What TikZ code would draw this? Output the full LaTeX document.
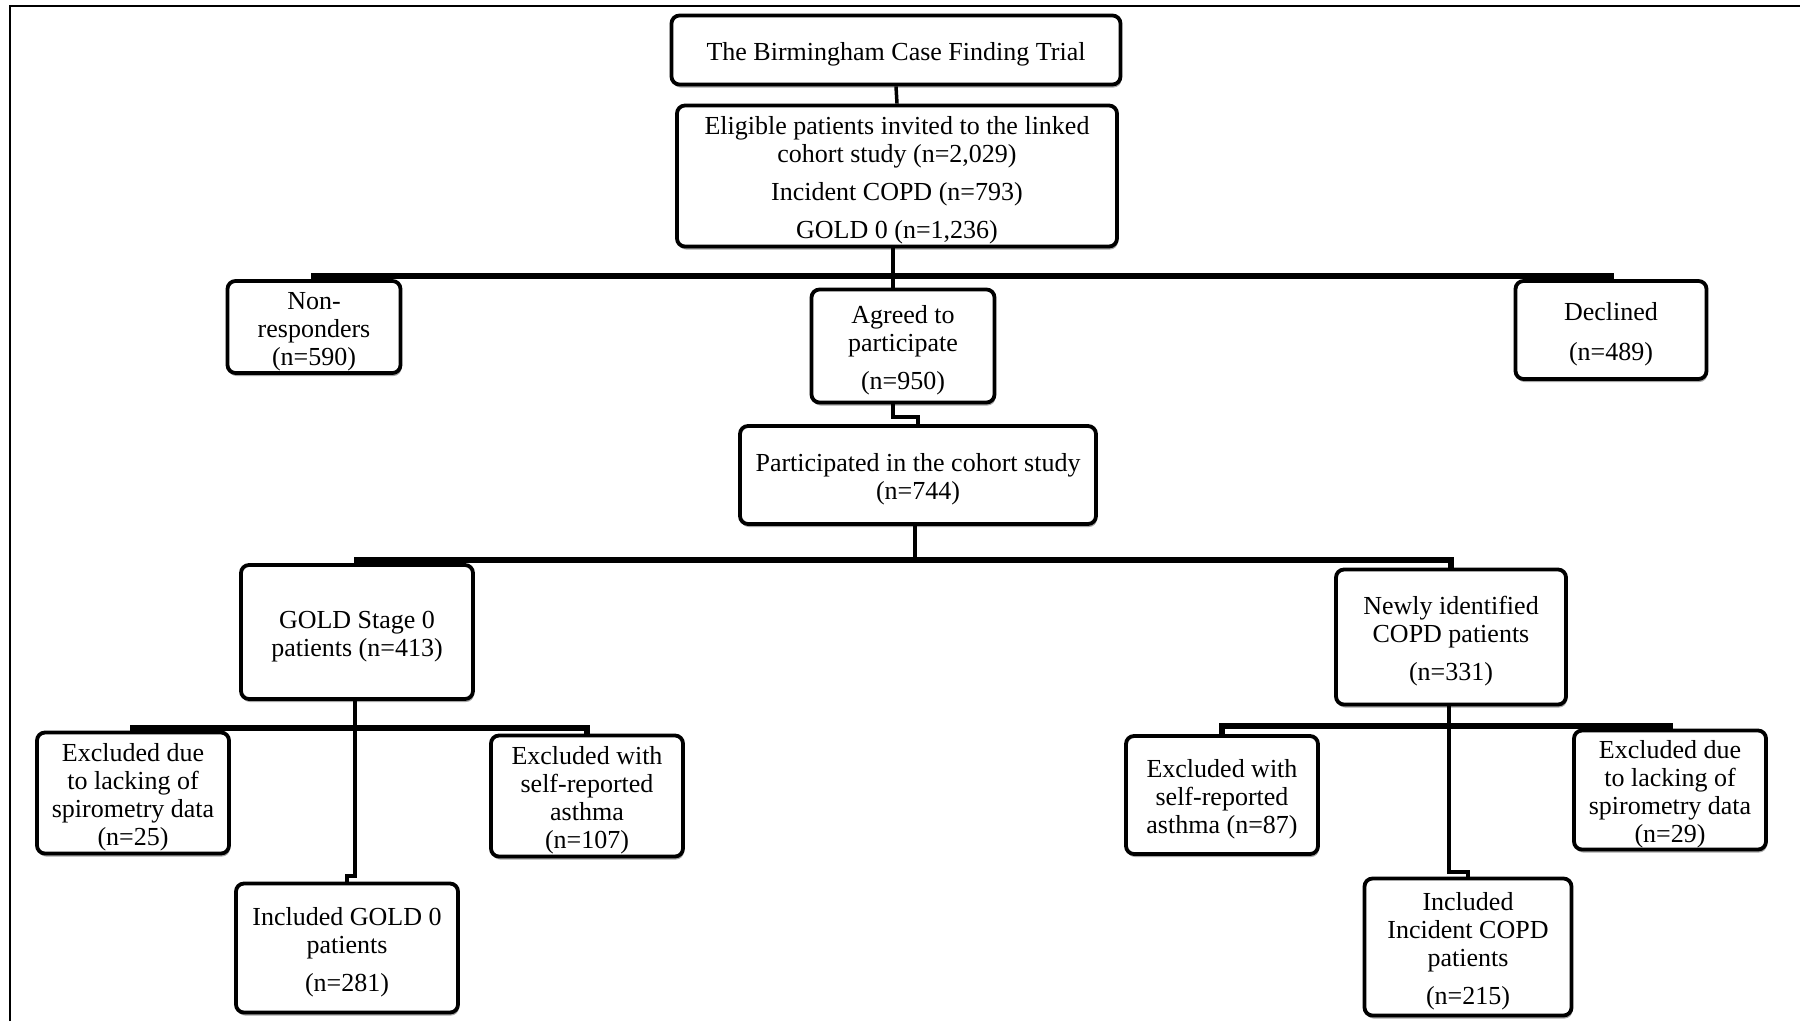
\documentclass[tikz,border=0pt]{standalone}
\usepackage{fontspec}
\setmainfont{Liberation Serif}
\usetikzlibrary{shadows}
\newcommand\topstrut{\rule{0pt}{26pt}}
\begin{document}
\begin{tikzpicture}[x=1pt,y=-1pt,
    box/.style={draw, line width=3.8pt, rounded corners=8pt, fill=white,
      align=center, inner sep=0pt, font=\fontsize{26}{28}\selectfont,
      drop shadow={shadow xshift=1pt, shadow yshift=-3pt, fill=black!35, opacity=1}},
    link/.style={line width=3.5pt},
    bar/.style={line width=6pt}]
  \useasboundingbox (0,0) rectangle (1800,1021);
  \draw[line width=2pt] (10,1021) -- (10,6) -- (1800,6);
  % boxes
  \node[box, minimum width=449pt, minimum height=69pt] (trial) at (896,50)
    {\topstrut The Birmingham Case Finding Trial};
  \node[box, minimum width=440pt, minimum height=141pt] (elig) at (897,176)
    {\topstrut Eligible patients invited to the linked\\cohort study (n=2,029)\\[10pt]Incident COPD (n=793)\\[10pt]GOLD 0 (n=1,236)};
  \node[box, minimum width=173pt, minimum height=92pt] (nonresp) at (314,327)
    {\topstrut Non-\\responders\\(n=590)};
  \node[box, minimum width=183pt, minimum height=113pt] (agreed) at (903,346)
    {\topstrut Agreed to\\participate\\[10pt](n=950)};
  \node[box, minimum width=191pt, minimum height=98pt] (declined) at (1611,330)
    {\topstrut Declined\\[12pt](n=489)};
  \node[box, minimum width=356pt, minimum height=98pt] (particip) at (918,475)
    {\topstrut Participated in the cohort study\\(n=744)};
  \node[box, minimum width=232pt, minimum height=134pt] (gold) at (357,632)
    {\topstrut GOLD Stage 0\\patients (n=413)};
  \node[box, minimum width=230pt, minimum height=135pt] (newly) at (1451,637)
    {\topstrut Newly identified\\COPD patients\\[10pt](n=331)};
  \node[box, minimum width=192pt, minimum height=121pt] (exspiroL) at (133,793)
    {\topstrut Excluded due\\to lacking of\\spirometry data\\(n=25)};
  \node[box, minimum width=192pt, minimum height=121pt] (exasthL) at (587,796)
    {\topstrut Excluded with\\self-reported\\asthma\\(n=107)};
  \node[box, minimum width=222pt, minimum height=129pt] (inclgold) at (347,948)
    {\topstrut Included GOLD 0\\patients\\[10pt](n=281)};
  \node[box, minimum width=192pt, minimum height=118pt] (exasthR) at (1222,795)
    {\topstrut Excluded with\\self-reported\\asthma (n=87)};
  \node[box, minimum width=192pt, minimum height=119pt] (exspiroR) at (1670,790)
    {\topstrut Excluded due\\to lacking of\\spirometry data\\(n=29)};
  \node[box, minimum width=207pt, minimum height=137pt] (inclcopd) at (1468,947)
    {\topstrut Included\\Incident COPD\\patients\\[10pt](n=215)};
  % connectors
  \coordinate (split1) at (893,276);
  \coordinate (jog1) at (893,417);
  \coordinate (split2) at (915,560);
  \coordinate (split3) at (355,728);
  \coordinate (jog3) at (355,876);
  \coordinate (split4) at (1449,726);
  \coordinate (jog4) at (1449,872);
  \draw[link] (trial.south) -- (elig.north);
  \draw[bar] (nonresp.north) |- (split1) -| (declined.north);
  \draw[link] (elig.south -| split1) -- (agreed.north -| split1);
  \draw[link] (agreed.south -| jog1) -- (jog1) -| (particip.north);
  \draw[link] (particip.south -| split2) -- (split2);
  \draw[bar] (gold.north) |- (split2) -| (newly.north);
  \draw[link] (gold.south -| split3) -- (split3);
  \draw[bar] (exspiroL.north) |- (split3) -| (exasthL.north);
  \draw[link] (split3) -- (jog3) -| (inclgold.north);
  \draw[link] (newly.south -| split4) -- (split4);
  \draw[bar] (exasthR.north) |- (split4) -| (exspiroR.north);
  \draw[link] (split4) -- (jog4) -| (inclcopd.north);
\end{tikzpicture}
\end{document}
